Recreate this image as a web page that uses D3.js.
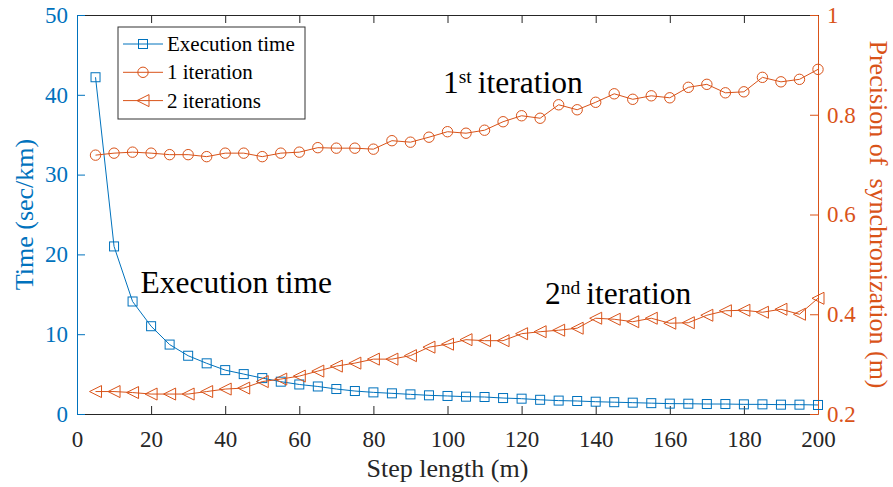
<!DOCTYPE html>
<html>
<head>
<meta charset="utf-8">
<script src="https://cdn.jsdelivr.net/npm/d3@7"></script>
<style>
  body { margin: 0; background: #fff; }
</style>
</head>
<body>
<div id="chart"></div>
<script>
// step lengths (m)
const stepLength = d3.range(5, 201, 5);

// execution time (sec/km), left axis
const execTime = [42.2, 21.0, 14.1, 11.0, 8.7, 7.3, 6.35, 5.5, 5.0, 4.5,
                  4.05, 3.7, 3.45, 3.13, 2.88, 2.71, 2.59, 2.46, 2.34, 2.26,
                  2.17, 2.13, 2.0, 1.92, 1.78, 1.68, 1.63, 1.54, 1.48, 1.42,
                  1.36, 1.3, 1.29, 1.25, 1.25, 1.21, 1.21, 1.17, 1.17, 1.13];

// precision of synchronization (m), right axis
const iter1 = [0.719, 0.723, 0.725, 0.723, 0.720, 0.720, 0.716, 0.723, 0.723, 0.716,
               0.723, 0.725, 0.734, 0.733, 0.733, 0.731, 0.748, 0.745, 0.755, 0.766,
               0.763, 0.769, 0.786, 0.798, 0.793, 0.820, 0.810, 0.825, 0.842, 0.831,
               0.838, 0.834, 0.855, 0.861, 0.844, 0.846, 0.875, 0.866, 0.871, 0.891];

const iter2 = [0.245, 0.245, 0.243, 0.240, 0.240, 0.240, 0.245, 0.250, 0.252, 0.265,
               0.270, 0.276, 0.286, 0.296, 0.302, 0.310, 0.310, 0.317, 0.334, 0.340,
               0.349, 0.347, 0.347, 0.361, 0.365, 0.368, 0.372, 0.392, 0.390, 0.385,
               0.392, 0.382, 0.383, 0.398, 0.407, 0.408, 0.404, 0.410, 0.400, 0.432];

const xTicks = d3.range(0, 201, 20);
const yLeftTicks = [0, 10, 20, 30, 40, 50];
const yRightTicks = [0.2, 0.4, 0.6, 0.8, 1];

const blue = "#0072BD";
const orange = "#D95319";
const axisGrey = "#262626";
const serif = "'Liberation Serif', 'Times New Roman', Times, serif";

const W = 893, H = 487;
const margin = {top: 15, right: 75, bottom: 73, left: 77};
const w = W - margin.left - margin.right;
const h = H - margin.top - margin.bottom;

const svg = d3.select("#chart").append("svg")
    .attr("width", W)
    .attr("height", H)
    .attr("font-family", serif);

const g = svg.append("g")
    .attr("transform", `translate(${margin.left},${margin.top})`);

const x = d3.scaleLinear().domain([0, 200]).range([0, w]);
const yL = d3.scaleLinear().domain([0, 50]).range([h, 0]);
const yR = d3.scaleLinear().domain([0.2, 1]).range([h, 0]);

// axes: ticks point inward like matlab
const tickLen = 8;
const tickFont = 23;
const fmtR = d => d === 1 ? "1" : d3.format(".1f")(d);

const xAxis = g.append("g")
    .attr("transform", `translate(0,${h})`)
    .call(d3.axisBottom(x).tickValues(xTicks).tickSizeInner(-tickLen).tickSizeOuter(0).tickPadding(17));

const xTop = g.append("g")
    .call(d3.axisTop(x).tickValues(xTicks).tickSizeInner(-tickLen).tickSizeOuter(0).tickFormat(""));

[xAxis, xTop].forEach(a => {
    a.select(".domain").attr("stroke", axisGrey);
    a.selectAll(".tick line").attr("stroke", axisGrey);
});
xAxis.selectAll(".tick text")
    .attr("fill", axisGrey)
    .attr("font-size", tickFont);

const yLeft = g.append("g")
    .call(d3.axisLeft(yL).tickValues(yLeftTicks).tickSizeInner(-tickLen).tickSizeOuter(0).tickPadding(9));
yLeft.select(".domain").attr("stroke", blue);
yLeft.selectAll(".tick line").attr("stroke", blue);
yLeft.selectAll(".tick text").attr("fill", blue).attr("font-size", tickFont);

const yRight = g.append("g")
    .attr("transform", `translate(${w},0)`)
    .call(d3.axisRight(yR).tickValues(yRightTicks).tickSizeInner(-tickLen).tickSizeOuter(0).tickPadding(9).tickFormat(fmtR));
yRight.select(".domain").attr("stroke", orange);
yRight.selectAll(".tick line").attr("stroke", orange);
yRight.selectAll(".tick text").attr("fill", orange).attr("font-size", tickFont);

// d3 axes put sans-serif on their groups, undo that
[xAxis, xTop, yLeft, yRight].forEach(a => a.attr("font-family", serif));
svg.selectAll(".domain").attr("stroke-width", 1);

// axis titles
g.append("text")
    .attr("x", w / 2)
    .attr("y", 477 - margin.top)
    .attr("text-anchor", "middle")
    .attr("fill", axisGrey)
    .attr("font-size", 26)
    .text("Step length (m)");

g.append("text")
    .attr("transform", `translate(${-44},${h / 2}) rotate(-90)`)
    .attr("text-anchor", "middle")
    .attr("fill", blue)
    .attr("font-size", 26)
    .text("Time (sec/km)");

g.append("text")
    .attr("transform", `translate(${w + 52},${h / 2}) rotate(90)`)
    .attr("text-anchor", "middle")
    .attr("fill", orange)
    .attr("font-size", 26)
    .attr("xml:space", "preserve")
    .text("Precision of  synchronization (m)");

// series
const series = [
    {name: "Execution time", values: execTime, y: yL, color: blue, marker: "square"},
    {name: "1 iteration", values: iter1, y: yR, color: orange, marker: "circle"},
    {name: "2 iterations", values: iter2, y: yR, color: orange, marker: "triangle"}
];

function drawMarker(sel, type, color) {
    if (type === "square") {
        sel.append("rect").attr("x", -4.5).attr("y", -4.5).attr("width", 9).attr("height", 9);
    } else if (type === "circle") {
        sel.append("circle").attr("r", 5.2);
    } else {
        sel.append("path").attr("d", "M-6,0L6,-6L6,6Z");
    }
    sel.selectAll("rect,circle,path")
        .attr("fill", "none")
        .attr("stroke", color)
        .attr("stroke-width", 1);
}

series.forEach(s => {
    const line = d3.line()
        .x((d, i) => x(stepLength[i]))
        .y(d => s.y(d));
    g.append("path")
        .datum(s.values)
        .attr("fill", "none")
        .attr("stroke", s.color)
        .attr("stroke-width", 1)
        .attr("d", line);

    g.append("g").selectAll("g")
        .data(s.values)
        .join("g")
        .attr("transform", (d, i) => `translate(${x(stepLength[i])},${s.y(d)})`)
        .each(function() { drawMarker(d3.select(this), s.marker, s.color); });
});

// annotations (positions in page pixels)
function annot(px, py, num, sup, rest) {
    const t = g.append("text")
        .attr("x", px - margin.left)
        .attr("y", py - margin.top)
        .attr("font-size", 31.5)
        .attr("fill", "#000");
    if (sup) {
        t.append("tspan").text(num);
        t.append("tspan").attr("font-size", 19.5).attr("dy", -10).text(sup);
        t.append("tspan").attr("dy", 10).attr("dx", 6).text(rest);
    } else {
        t.append("tspan").text(rest);
    }
}
annot(443, 93, "1", "st", "iteration");
annot(140.5, 293, "", null, "Execution time");
annot(545, 304, "2", "nd", "iteration");

// legend
const legend = g.append("g").attr("transform", `translate(${118 - margin.left},${27 - margin.top})`);
legend.append("rect")
    .attr("width", 187)
    .attr("height", 92)
    .attr("fill", "#fff")
    .attr("stroke", "#333")
    .attr("stroke-width", 1);

series.forEach((s, i) => {
    const ly = 17 + i * 28.3;
    const row = legend.append("g").attr("transform", `translate(0,${ly})`);
    row.append("line")
        .attr("x1", 5).attr("x2", 45)
        .attr("stroke", s.color).attr("stroke-width", 1);
    const m = row.append("g").attr("transform", "translate(25,0)");
    drawMarker(m, s.marker, s.color);
    row.append("text")
        .attr("x", 49)
        .attr("y", 7)
        .attr("font-size", 21)
        .attr("fill", "#000")
        .text(s.name);
});
</script>
</body>
</html>
